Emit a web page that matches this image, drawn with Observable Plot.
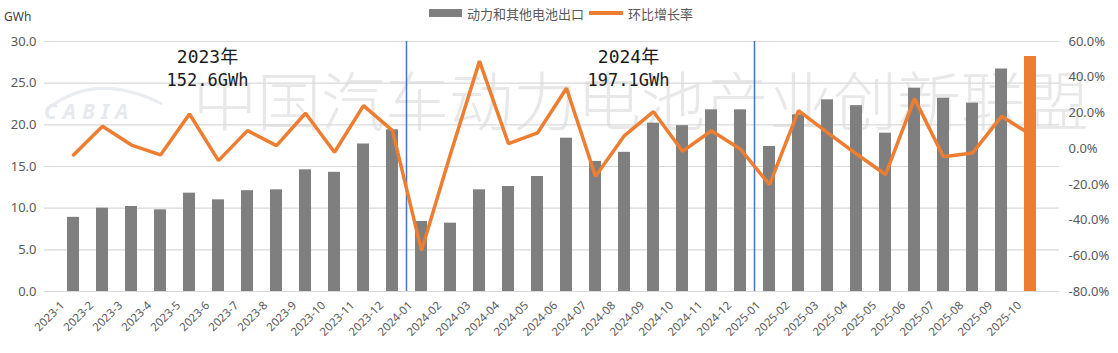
<!DOCTYPE html>
<html><head><meta charset="utf-8">
<script src="https://cdn.jsdelivr.net/npm/d3@7"></script>
<script src="https://cdn.jsdelivr.net/npm/@observablehq/plot@0.6"></script>
<style>
body{margin:0;background:#fff;}
#wrap{position:relative;width:1118px;height:353px;overflow:hidden;font-family:"Noto Sans CJK SC","Noto Sans",sans-serif;}
#wm{position:absolute;left:193px;top:65px;font-size:64px;line-height:64px;font-weight:300;color:#e8e8e8;white-space:nowrap;letter-spacing:0px;}
#logo{position:absolute;left:0;top:0;}
#unit{position:absolute;left:4px;top:8px;font-size:12px;color:#404040;font-family:"Noto Sans",sans-serif;}
#legend{position:absolute;left:429px;top:4px;height:18px;display:flex;align-items:center;font-size:13px;color:#595959;white-space:nowrap;}
.sw{display:inline-block;}
#chart{position:absolute;left:0;top:0;}
</style></head><body>
<div id="wrap">
  <div id="wm"></div>
  <svg id="logo" width="200" height="130">
    <path d="M46,110 Q95,70 162,104" fill="none" stroke="#e9ecf0" stroke-width="3"/>
    <text x="44" y="119" font-family="Noto Sans, sans-serif" font-style="italic" font-weight="700" font-size="21" letter-spacing="6" fill="#e6e9ee">CABIA</text>
  </svg>
  <div id="unit">GWh</div>
  <div id="legend"></div>
  <div id="chart"></div>
</div>
<script>
const months = ["2023-1","2023-2","2023-3","2023-4","2023-5","2023-6","2023-7","2023-8","2023-9","2023-10","2023-11","2023-12",
  "2024-01","2024-02","2024-03","2024-04","2024-05","2024-06","2024-07","2024-08","2024-09","2024-10","2024-11","2024-12",
  "2025-01","2025-02","2025-03","2025-04","2025-05","2025-06","2025-07","2025-08","2025-09","2025-10"];
const exportsGWh = [8.9,10.0,10.2,9.8,11.8,11.0,12.1,12.2,14.6,14.3,17.7,19.4,
  8.4,8.2,12.2,12.6,13.8,18.4,15.6,16.7,20.2,19.9,21.8,21.8,
  17.4,21.2,23.0,22.3,19.0,24.4,23.2,22.6,26.7,28.2];
const growthPct = [-3.5,12.5,2.0,-3.5,19.4,-6.7,10.1,1.7,19.8,-2.0,24.1,10.1,
  -57.1,-3.0,49.0,2.8,8.8,33.8,-15.5,7.3,20.7,-1.5,10.0,-0.3,
  -20.2,21.3,9.0,-3.0,-14.5,28.0,-4.5,-2.5,18.1,8.0];
const leftTicks = [0,5,10,15,20,25,30];
const rightTicks = [-80,-60,-40,-20,0,20,40,60];
const highlightMonth = "2025-10";
const dividerMonths = ["2024-01","2025-01"];
const noteMonths = ["2023-6","2024-08"];
const noteYears = ["2023年","2024年"];
const noteTotals = ["152.6GWh","197.1GWh"];
const legendLabels = ["动力和其他电池出口","环比增长率"];
const watermark = "中国汽车动力电池产业创新联盟";

const GREY = "#7f7f7f", ORANGE = "#ED7D31", BLUE = "#4472C4";
document.getElementById("wm").textContent = watermark;
document.getElementById("legend").innerHTML =
  `<span class="sw" style="width:33px;height:8px;background:${GREY};margin-right:5px"></span><span>${legendLabels[0]}</span>` +
  `<span class="sw" style="width:34px;height:4px;background:${ORANGE};margin:0 5px 0 5px"></span><span>${legendLabels[1]}</span>`;

const pctToY = d3.scaleLinear([-80, 60], [0, 30]);
const data = months.map((m, i) => ({month: m, value: exportsGWh[i], gy: pctToY(growthPct[i]), hi: m === highlightMonth}));
const notes = noteMonths.map((m, i) => ({month: m, year: noteYears[i], total: noteTotals[i]}));
const noteDx = [-11, 4];
const tickFont = "Noto Sans, sans-serif";
const noteFont = "DejaVu Sans Mono, Noto Sans CJK SC, monospace";

const noteMarks = notes.flatMap((n, i) => [
  Plot.text([n], {x: "month", text: "year", frameAnchor: "top", dy: 16, dx: noteDx[i], fontSize: 18, fill: "#1a1a1a", fontFamily: noteFont, lineAnchor: "middle"}),
  Plot.text([n], {x: "month", text: "total", frameAnchor: "top", dy: 39, dx: noteDx[i], fontSize: 17, fill: "#1a1a1a", fontFamily: noteFont, lineAnchor: "middle"})
]);

const chart = Plot.plot({
  width: 1118, height: 353,
  marginTop: 41, marginBottom: 62, marginLeft: 44, marginRight: 59,
  style: {background: "transparent", fontFamily: tickFont, overflow: "visible"},
  x: {domain: months, paddingInner: 0.6, paddingOuter: 0.3, label: null},
  y: {domain: [0, 30], label: null},
  marks: [
    Plot.gridY(leftTicks, {stroke: "#d9d9d9", strokeOpacity: 1, strokeWidth: 1.2}),
    Plot.axisY(leftTicks, {tickSize: 0, tickPadding: 8, tickFormat: d => d.toFixed(1), fontSize: 13, fill: "#595959", label: null}),
    Plot.axisY(rightTicks.map(pctToY), {anchor: "right", tickSize: 0, tickPadding: 9, tickFormat: d => Math.round(pctToY.invert(d)).toFixed(1) + "%", fontSize: 13, fill: "#595959", label: null}),
    Plot.barY(data.filter(d => !d.hi), {x: "month", y: "value", fill: GREY}),
    Plot.barY(data.filter(d => d.hi), {x: "month", y: "value", fill: ORANGE}),
    Plot.ruleX(dividerMonths, {x: d => d, y1: 0, y2: 30, stroke: BLUE, strokeWidth: 1.5, dx: -15}),
    Plot.line(data, {x: "month", y: "gy", stroke: ORANGE, strokeWidth: 3.5, strokeLinejoin: "miter"}),
    Plot.axisX({tickRotate: -45, tickSize: 0, tickPadding: 4, fontSize: 11.5, fill: "#595959", label: null, dx: -11, dy: 8}),
    ...noteMarks
  ]
});
document.getElementById("chart").appendChild(chart);
</script>
</body></html>
